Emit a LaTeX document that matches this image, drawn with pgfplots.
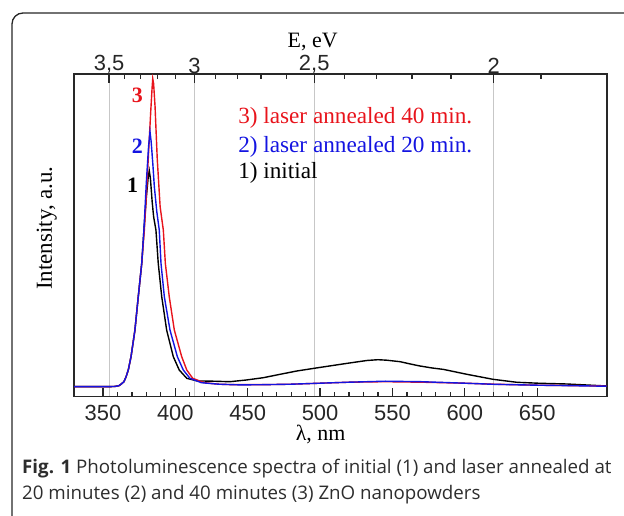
\documentclass[border=0pt]{standalone}
\usepackage{fontspec}
\setmainfont{Liberation Serif}
\newfontfamily\arialf{Liberation Sans}
\newfontfamily\capf{Open Sans}
\usepackage{pgfplots}
\usepackage{pgfplotstable}
\pgfplotsset{compat=1.18}

\definecolor{pred}{RGB}{232,20,28}
\definecolor{pblue}{RGB}{20,20,225}
\definecolor{axgray}{RGB}{40,40,40}
\definecolor{capgray}{RGB}{45,45,45}

% PL spectra, intensity in arbitrary units (0 = baseline)
\pgfplotstableread{
x y
330 0
350 0
358 0.2
361 1
362.5 2.5
364.5 5
366 10
367.5 16.7
369.4 30
372.1 56.7
374.4 90
376.8 123.4
378.3 156.7
380 190
381.3 210
382 216
382.8 208
384 185
385 170
386.6 156.7
388.2 123.4
390.6 90
394 56.7
398.6 30
402.7 16.7
407.9 8.4
415 5.8
426 5.5
437.7 5
449 6.7
460.8 9
472.4 12.4
483.9 15.7
500 19.3
518.4 23.3
532.3 26.2
540 27
546 26.5
555.3 25
563 22.5
569 20.7
577 18.8
585.2 17.3
601.4 12.4
619.4 7.4
636 4.4
652.1 3.4
670.5 2.7
698 0.7
}\initial

\pgfplotstableread{
x y
330 0
350 0
358 0.2
361 1
362.5 2.5
364.5 5
366 10
367.5 16.7
369.4 30
372.1 56.7
374.4 90
376.8 123.4
378.3 156.7
380 205
381.5 240
382.5 255
383.3 245
384.5 222
385.5 200
387.2 175
388.9 156.7
390.1 123.4
392.4 90
396.3 56.7
401.4 30
405.5 16.7
410.1 8.4
418 4
430 2.5
445 1.8
460 2
480 2.5
500 3.5
520 4.5
545 5.5
570 5
600 3.5
620 2.4
650 1.5
698 0.5
}\twenty

\pgfplotstableread{
x y
330 0
350 0
358 0.2
361 1
362.5 2.5
364.5 5
366 10
367.5 16.7
369.4 30
372.1 56.7
374.4 90
376.8 123.4
378.6 156.7
380 192
381.3 228
383 275
384 300
384.4 308
385 303
386 280
387.5 228
389.5 180
391.7 156.7
393.1 123.4
395.8 90
399.3 56.7
404.4 30
407.9 16.7
412 8.4
420 4
430 2.5
440 2
460 2
480 2.5
500 3.5
520 4.5
545 5
570 4.5
600 3.5
620 2.5
650 1.5
698 0.7
}\forty

\begin{document}
\begin{tikzpicture}
\useasboundingbox (0bp,0bp) rectangle (624bp,516bp);
\clip (0bp,0bp) rectangle (624bp,516bp);
\draw[line width=1.3bp, black!85, rounded corners=11bp] (12bp,-20bp) rectangle (650bp,503bp);

\pgfplotsset{
  base/.style={
    scale only axis, width=532.7bp, height=322.4bp,
    at={(74bp,119.3bp)}, anchor=south west,
    xmin=330, xmax=698, ymin=-10, ymax=312.4,
    ytick=\empty,
    axis line style={axgray, line width=1.6bp},
    major tick length=9bp, minor tick length=5bp,
    every tick/.style={axgray, line width=1.2bp},
    tick label style={font=\arialf\fontsize{22}{24}\selectfont, text=black!85},
    /pgf/number format/assume math mode=true,
  }
}

% energy scale on top with its grid
\begin{axis}[base,
  axis x line*=top, axis y line=none,
  xtick={354.24,413.28,495.94,619.92},
  xticklabels={{3,5},{3},{2,5},{2}},
  minor xtick={364.66,375.72,387.45,399.95,427.53,442.80,459.20,476.86,516.60,539.06,563.56,590.40,652.55},
  xmajorgrids,
  major grid style={black!22, line width=0.8bp},
  xticklabel style={yshift=-3bp},
  xlabel={E, eV},
  xlabel style={font=\fontsize{22}{24}\selectfont, at={(rel axis cs:0.448,1)}, anchor=center, yshift=32.6bp},
]
\end{axis}

\begin{axis}[base,
  xtick={350,400,450,500,550,600,650},
  minor x tick num=4,
  xtick pos=bottom,
  xticklabel style={yshift=-5bp},
  xlabel={λ, nm},
  xlabel style={font=\fontsize{22}{24}\selectfont, at={(rel axis cs:0.463,0)}, anchor=center, yshift=-38bp},
  ylabel={Intensity, a.u.},
  ylabel style={font=\fontsize{23}{25}\selectfont, at={(rel axis cs:-0.0512,0.523)}, anchor=center},
]
\addplot[black, line width=1.4bp] table {\initial};
\addplot[pred, line width=1.4bp] table {\forty};
\addplot[pblue, line width=1.4bp] table {\twenty};

\node[text=pred, font=\bfseries\fontsize{22}{24}\selectfont] at (rel axis cs:0.1187,0.936) {3};
\node[text=pblue, font=\bfseries\fontsize{22}{24}\selectfont] at (rel axis cs:0.1187,0.7754) {2};
\node[text=black, font=\bfseries\fontsize{22}{24}\selectfont] at (rel axis cs:0.1102,0.6567) {1};

\node[text=pred, anchor=west, inner sep=0pt, font=\fontsize{23.3}{25}\selectfont] at (rel axis cs:0.308,0.8635) {3) laser annealed 40 min.};
\node[text=pblue, anchor=west, inner sep=0pt, font=\fontsize{23.3}{25}\selectfont] at (rel axis cs:0.308,0.7754) {2) laser annealed 20 min.};
\node[text=black, anchor=west, inner sep=0pt, font=\fontsize{23.3}{25}\selectfont] at (rel axis cs:0.308,0.693) {1) initial};
\end{axis}

\node[anchor=base west, inner sep=0pt, text=capgray, font=\capf\fontsize{18.8}{22}\selectfont] at (22bp,42bp) {\textbf{Fig. 1} Photoluminescence spectra of initial (1) and laser annealed at};
\node[anchor=base west, inner sep=0pt, text=capgray, font=\capf\fontsize{18.8}{22}\selectfont] at (22bp,17bp) {20 minutes (2) and 40 minutes (3) ZnO nanopowders};
\end{tikzpicture}
\end{document}
